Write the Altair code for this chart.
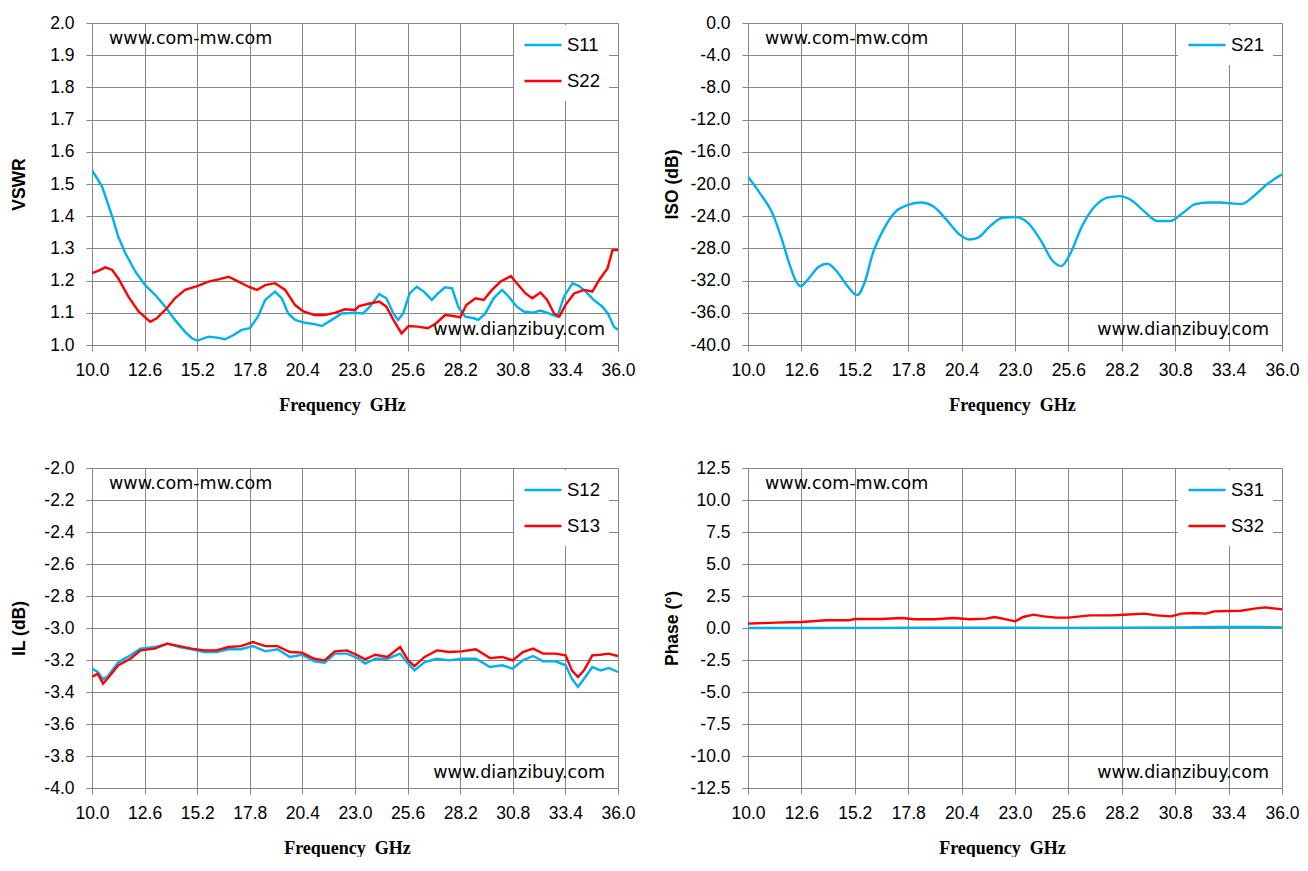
import pandas as pd
import altair as alt

BLUE = "#00B0F0"
RED = "#FF0000"
GRID = "#868686"
LABEL_FONT = "Liberation Sans Narrow, Liberation Sans, sans-serif"

X_TICKS = [10.0, 12.6, 15.2, 17.8, 20.4, 23.0, 25.6, 28.2, 30.8, 33.4, 36.0]

# VSWR panel
S11_F = [10.0, 10.5, 11.0, 11.3, 11.65, 12.14, 12.63, 13.13, 13.62, 14.1, 14.6, 14.94, 15.2, 15.76,
         16.17, 16.58, 17.0, 17.4, 17.8, 18.2, 18.56, 19.05, 19.38, 19.7, 20.04, 20.53, 21.0, 21.36,
         21.85, 22.35, 23.0, 23.4, 23.73, 24.2, 24.55, 24.9, 25.13, 25.38, 25.7, 26.05, 26.4, 26.8,
         27.1, 27.45, 27.8, 28.1, 28.45, 28.86, 29.1, 29.44, 29.85, 30.27, 30.6, 31.0, 31.35, 31.76,
         32.17, 32.58, 33.0, 33.33, 33.75, 34.08, 34.4, 34.8, 35.23, 35.5, 35.8, 36.0]
S11_V = [1.543, 1.492, 1.399, 1.336, 1.285, 1.228, 1.186, 1.155, 1.119, 1.078, 1.041, 1.021, 1.013, 1.026,
         1.023, 1.018, 1.031, 1.047, 1.052, 1.088, 1.140, 1.166, 1.145, 1.098, 1.078, 1.069, 1.065, 1.059,
         1.078, 1.098, 1.100, 1.098, 1.119, 1.158, 1.145, 1.098, 1.078, 1.098, 1.160, 1.181, 1.166, 1.140,
         1.160, 1.179, 1.176, 1.119, 1.088, 1.083, 1.078, 1.098, 1.145, 1.171, 1.150, 1.119, 1.104, 1.100,
         1.107, 1.098, 1.088, 1.150, 1.192, 1.183, 1.166, 1.140, 1.119, 1.098, 1.057, 1.047]
S22_F = [10.0, 10.33, 10.66, 11.0, 11.3, 11.8, 12.3, 12.88, 13.2, 13.7, 14.1, 14.6, 15.2, 15.76, 16.25,
         16.75, 17.24, 17.74, 18.15, 18.56, 19.05, 19.55, 20.04, 20.45, 21.0, 21.5, 22.0, 22.5, 23.0,
         23.2, 23.73, 24.2, 24.55, 24.9, 25.3, 25.65, 26.1, 26.6, 27.0, 27.45, 27.87, 28.2, 28.5, 28.96,
         29.36, 29.77, 30.2, 30.7, 31.0, 31.43, 31.76, 32.17, 32.5, 32.84, 33.1, 33.4, 33.83, 34.32,
         34.73, 35.07, 35.48, 35.73, 36.0]
S22_V = [1.223, 1.231, 1.241, 1.233, 1.207, 1.150, 1.104, 1.072, 1.083, 1.114, 1.145, 1.171, 1.183, 1.197,
         1.204, 1.212, 1.197, 1.181, 1.171, 1.186, 1.192, 1.171, 1.124, 1.104, 1.093, 1.093, 1.100, 1.111,
         1.109, 1.121, 1.129, 1.135, 1.119, 1.078, 1.036, 1.059, 1.057, 1.052, 1.067, 1.093, 1.090, 1.086,
         1.124, 1.145, 1.140, 1.171, 1.197, 1.214, 1.192, 1.160, 1.145, 1.163, 1.140, 1.098, 1.088, 1.124,
         1.160, 1.171, 1.166, 1.202, 1.238, 1.295, 1.295]

# isolation panel
S21_F = [10.0, 10.57, 11.18, 11.6, 12.0, 12.3, 12.57, 12.9, 13.43, 13.87, 14.34, 14.85, 15.32, 15.67,
         16.08, 16.59, 17.2, 17.8, 18.42, 19.03, 19.65, 20.26, 20.77, 21.18, 21.8, 22.4, 23.0, 23.62,
         24.23, 24.85, 25.25, 25.66, 26.27, 26.88, 27.5, 28.1, 28.72, 29.33, 29.94, 30.55, 31.17, 31.78,
         32.4, 33.0, 33.5, 34.0, 34.63, 35.24, 36.0]
S21_V = [-19.1, -21.1, -23.6, -26.5, -29.8, -31.9, -32.7, -31.9, -30.3, -29.9, -30.9, -32.7, -33.8, -32.3,
         -28.6, -25.7, -23.4, -22.6, -22.3, -22.8, -24.4, -26.2, -26.9, -26.7, -25.2, -24.2, -24.1, -24.8,
         -26.9, -29.6, -30.2, -28.8, -25.2, -22.8, -21.7, -21.5, -22.1, -23.5, -24.6, -24.6, -23.6, -22.5,
         -22.3, -22.3, -22.4, -22.5, -21.5, -20.1, -18.8]

# insertion loss panel
IL_F = [10.0, 10.28, 10.55, 10.79, 11.3, 11.9, 12.4, 13.1, 13.72, 14.32, 14.93, 15.54, 16.14, 16.75,
        17.36, 17.96, 18.57, 19.17, 19.78, 20.38, 20.99, 21.5, 22.0, 22.6, 23.2, 23.5, 24.0, 24.6,
        25.23, 25.63, 25.94, 26.44, 27.05, 27.66, 28.26, 28.97, 29.67, 30.28, 30.79, 31.3, 31.8, 32.3,
        32.91, 33.41, 33.72, 34.02, 34.32, 34.73, 35.13, 35.54, 36.0]
S12_V = [-3.254, -3.275, -3.321, -3.300, -3.213, -3.171, -3.129, -3.119, -3.098, -3.119, -3.133, -3.150,
         -3.150, -3.133, -3.133, -3.113, -3.146, -3.133, -3.181, -3.167, -3.208, -3.217, -3.160, -3.160,
         -3.192, -3.223, -3.192, -3.192, -3.160, -3.223, -3.265, -3.213, -3.192, -3.202, -3.192, -3.192,
         -3.244, -3.233, -3.254, -3.202, -3.175, -3.208, -3.208, -3.233, -3.317, -3.369, -3.317, -3.244,
         -3.265, -3.250, -3.275]
S13_V = [-3.306, -3.285, -3.348, -3.313, -3.233, -3.192, -3.140, -3.129, -3.098, -3.113, -3.129, -3.140,
         -3.140, -3.119, -3.113, -3.088, -3.113, -3.113, -3.150, -3.154, -3.192, -3.202, -3.146, -3.140,
         -3.175, -3.196, -3.167, -3.181, -3.119, -3.202, -3.238, -3.181, -3.140, -3.150, -3.146, -3.133,
         -3.188, -3.181, -3.202, -3.150, -3.129, -3.160, -3.160, -3.171, -3.265, -3.306, -3.265, -3.171,
         -3.167, -3.160, -3.175]

# phase panel
S31_F = [10.0, 13.0, 16.0, 19.0, 22.0, 25.0, 28.0, 31.0, 33.0, 35.0, 36.0]
S31_V = [0.0, 0.0, 0.01, 0.02, 0.02, 0.01, 0.03, 0.05, 0.08, 0.08, 0.05]
S32_F = [10.0, 11.35, 12.6, 13.8, 14.9, 15.2, 16.45, 17.5, 18.1, 19.1, 20.0, 20.8, 21.6, 22.0, 22.4,
         23.0, 23.4, 23.9, 24.4, 25.0, 25.6, 26.65, 27.7, 28.3, 29.3, 29.9, 30.6, 31.1, 31.7, 32.3,
         32.7, 33.4, 34.0, 34.65, 35.2, 35.7, 36.0]
S32_V = [0.34, 0.42, 0.47, 0.60, 0.60, 0.70, 0.70, 0.78, 0.68, 0.68, 0.78, 0.68, 0.73, 0.86, 0.73,
         0.52, 0.86, 1.04, 0.91, 0.81, 0.81, 0.99, 0.99, 1.04, 1.12, 0.99, 0.91, 1.12, 1.17, 1.12,
         1.30, 1.33, 1.35, 1.51, 1.61, 1.51, 1.46]


def make_df(parts):
    frames = [pd.DataFrame({"freq": f, "val": v, "series": name}) for name, f, v in parts]
    return pd.concat(frames, ignore_index=True)


def panel(df, names, y_title, y_dom, y_ticks, w, h, xt_x, yt_x, interp="linear"):
    # hyphen instead of the unicode minus that d3-format gives
    label_expr = "replace(datum.label, '\u2212', '-')"
    x = alt.X("freq:Q", scale=alt.Scale(domain=[10, 36], nice=False, zero=False),
              axis=alt.Axis(values=X_TICKS, format=".1f", title="Frequency\u00a0 GHz",
                            titleX=xt_x, titleY=60, titleAnchor="middle", titleBaseline="middle",
                            titleFont="Liberation Serif", titleFontSize=18, titleFontWeight="bold",
                            labelPadding=10))
    y = alt.Y("val:Q", scale=alt.Scale(domain=y_dom, nice=False, zero=False),
              axis=alt.Axis(values=y_ticks, format=".1f", labelExpr=label_expr, labelPadding=12,
                            title=y_title, titleX=yt_x, titleY=h / 2, titleAngle=270,
                            titleAlign="center", titleBaseline="middle", titleLimit=400,
                            titleFont="Liberation Sans", titleFontSize=17.5, titleFontWeight="bold"))
    color = alt.Color("series:N", scale=alt.Scale(domain=names, range=[BLUE, RED][:len(names)]),
                      legend=alt.Legend(title=None, orient="none", legendX=w - 104, legendY=2,
                                        fillColor="white", padding=9, symbolType="stroke",
                                        symbolSize=1369, symbolStrokeWidth=2.5, clipHeight=22,
                                        rowPadding=14, labelFont=LABEL_FONT, labelFontSize=18.5,
                                        labelColor="black", labelOffset=4))
    lines = alt.Chart(df).mark_line(strokeWidth=2.4, clip=True, interpolate=interp).encode(
        x=x, y=y, color=color)

    top_mark = alt.Chart(pd.DataFrame({"t": ["www.com-mw.com"]})).mark_text(
        align="left", baseline="middle", font="DejaVu Sans", fontSize=17.5, color="black"
    ).encode(x=alt.value(17), y=alt.value(16), text="t:N")
    bottom_mark = alt.Chart(pd.DataFrame({"t": ["www.dianzibuy.com"]})).mark_text(
        align="right", baseline="middle", font="DejaVu Sans", fontSize=17.5, color="black"
    ).encode(x=alt.value(w - 13), y=alt.value(h - 15), text="t:N")

    return alt.layer(lines, top_mark, bottom_mark).properties(width=w, height=h)


vswr = panel(make_df([("S11", S11_F, S11_V), ("S22", S22_F, S22_V)]), ["S11", "S22"],
             "VSWR", [1.0, 2.0], [round(1.0 + 0.1 * i, 1) for i in range(11)], 526, 322, 250, -73)
iso = panel(make_df([("S21", S21_F, S21_V)]), ["S21"],
            "ISO (dB)", [-40, 0], [-40 + 4 * i for i in range(11)], 534, 322, 264, -76, "monotone")
il = panel(make_df([("S12", IL_F, S12_V), ("S13", IL_F, S13_V)]), ["S12", "S13"],
           "IL (dB)", [-4.0, -2.0], [round(-4.0 + 0.2 * i, 1) for i in range(11)], 526, 320, 255, -73)
phase = panel(make_df([("S31", S31_F, S31_V), ("S32", S32_F, S32_V)]), ["S31", "S32"],
              "Phase (°)", [-12.5, 12.5], [-12.5 + 2.5 * i for i in range(11)], 534, 320, 254, -76)

chart = alt.concat(
    vswr, iso, il, phase, columns=2, spacing={"row": 123, "column": 130}, bounds="flush", align="each"
).resolve_scale(
    x="independent", y="independent", color="independent"
).properties(
    padding={"left": 2, "top": 6, "right": 0, "bottom": 0}
).configure_view(
    stroke=None
).configure_axis(
    gridColor=GRID, gridWidth=1, domainColor=GRID, tickColor=GRID, tickSize=6,
    labelFont=LABEL_FONT, labelFontSize=17.5, labelColor="black", labelFlush=False, labelOverlap=False,
    titleColor="black"
).configure_axisY(
    titleFontSize=17.5, titleFont="Liberation Sans", titleFontWeight="bold"
)

chart.save("out.html", embed_options={"renderer": "svg", "actions": False})
